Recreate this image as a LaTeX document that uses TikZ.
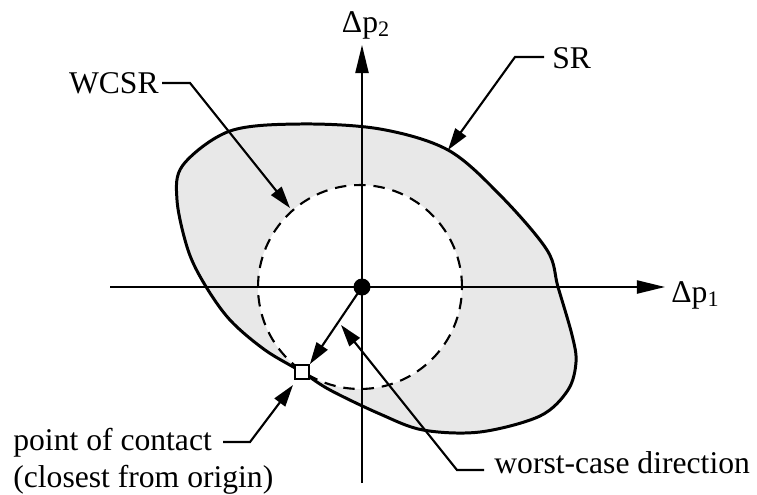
\documentclass[tikz,border=0pt]{standalone}
\usepackage{fontspec}
\setmainfont{Liberation Serif}
\usetikzlibrary{
  arrows.meta,
  positioning
}
\definecolor{regiongray}{HTML}{E8E8E8}
\tikzset{
  axis line/.style={
    -{Triangle[length=16pt, width=7.5pt]}, line width=1pt
  },
  pointer/.style={
    -{Triangle[length=12.5pt, width=7.5pt]}, line width=1.2pt
  },
  region border/.style={
    line width=1.7pt, fill=regiongray, line join=round
  },
  wc circle/.style={
    dash pattern=on 6.5pt off 4.5pt, line width=1.2pt
  },
  tag/.style={
    font=\fontsize{18}{21}\selectfont, inner sep=0pt
  },
  contact box/.style={
    draw, rectangle, fill=white, line width=1pt,
    minimum size=0.28cm, inner sep=0pt
  },
}

\begin{document}
\begin{tikzpicture}[x=0.02cm, y=-0.02cm]

  \useasboundingbox (0,0) rectangle (757,494);

  % specification region and worst-case region
  \draw[region border] plot[smooth cycle, tension=0.55] coordinates {
    (183,165) (230,131) (300,124) (380,129) (448,150) (500,195)
    (547,250) (558,287) (572,335) (576,362) (568,390) (540,416)
    (480,432) (423,430) (380,414) (330,390) (302,372) (265,350)
    (230,320) (205,285) (188,250) (177,200)};
  \coordinate (origin) at (362,287);
  \fill[white] (360,287) circle[radius=2.04cm];
  \draw[wc circle] (360,287) circle[radius=2.04cm];

  % axes
  \coordinate (x start) at (110,287);
  \coordinate (x end)   at (665,287);
  \coordinate (y start) at (362,483);
  \coordinate (y end)   at (362,45);
  \draw[axis line] (x start) -- (x end);
  \draw[axis line] (y start) -- (y end);
  \node[tag, anchor=base west] (p1) at (671,302) {Δp\textsubscript{1}};
  \node[tag, anchor=base]      (p2) at (366,32)  {Δp\textsubscript{2}};

  \fill (origin) circle[radius=0.17cm];
  \node[contact box] (contact) at (302,372) {};

  % worst-case direction
  \draw[pointer] (origin) -- (contact.north east);

  % labels
  \node[tag, anchor=east] (wcsr) at (159,83) {WCSR};
  \coordinate (wcsr bend) at (190,83);
  \coordinate (wcsr tip)  at (290,208);
  \draw[pointer] (wcsr.east) ++(3,0) -- (wcsr bend) -- (wcsr tip);

  \node[tag, anchor=west] (sr) at (552,58) {SR};
  \coordinate (sr bend) at (515,57);
  \coordinate (sr tip)  at (448,150);
  \draw[pointer] (sr.west) ++(-8,-1) -- (sr bend) -- (sr tip);

  \node[tag, anchor=base west] (wcd) at (494,473) {worst-case direction};
  \coordinate (wcd end)  at (484,470);
  \coordinate (wcd bend) at (457,470);
  \coordinate (wcd tip)  at (341,325);
  \draw[pointer] (wcd end) -- (wcd bend) -- (wcd tip);

  \node[tag, anchor=base west] (poc)  at (13,450) {point of contact};
  \node[tag, anchor=base west] (poc2) at (13,487) {(closest from origin)};
  \coordinate (poc end)  at (223,442);
  \coordinate (poc bend) at (250,442);
  \coordinate (poc tip)  at (293,385);
  \draw[pointer] (poc end) -- (poc bend) -- (poc tip);

\end{tikzpicture}
\end{document}
